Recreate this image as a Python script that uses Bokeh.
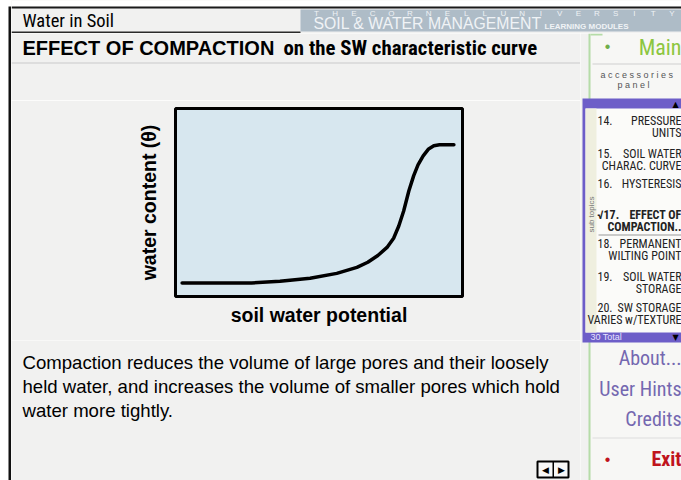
import math
from bokeh.plotting import figure
from bokeh.models import Range1d, FixedTicker
from bokeh.layouts import row, column
from bokeh.core.properties import value
from bokeh.embed import file_html
from bokeh.resources import INLINE

# ---- chart data (arbitrary units) ----
soil_water_potential = [2.3, 26.5, 36.4, 46.9, 56.2, 63.2, 67.0, 70.5, 73.7, 76.0, 77.8,
                        79.5, 81.3, 83.0, 84.5, 86.3, 88.2, 90.0, 92.0, 97.0]
water_content = [7.2, 7.2, 8.1, 9.7, 12.3, 15.5, 18.2, 21.8, 26.1, 31.0, 37.5,
                 45.5, 56.1, 64.3, 70.0, 74.8, 78.5, 80.2, 80.7, 80.7]

x_label = "soil water potential"
y_label = "water content (θ)"
page_title = "Water in Soil"
heading_caps = "EFFECT OF COMPACTION"
heading_rest = "on the SW characteristic curve"
paragraph = ["Compaction reduces the volume of large pores and their loosely",
             "held water, and increases the volume of smaller pores which hold",
             "water more tightly."]
banner_top = "THECORNELLUNIVERSITY"
topic_numbers = ["14.", "15.", "16.", "√17.", "18.", "19.", "20."]
topic_lines = [["PRESSURE", "UNITS"], ["SOIL WATER", "CHARAC. CURVE"], ["HYSTERESIS"],
               ["EFFECT OF", "COMPACTION.."], ["PERMANENT", "WILTING POINT"],
               ["SOIL WATER", "STORAGE"], ["SW STORAGE", "VARIES w/TEXTURE"]]
menu_items = ["About...", "User Hints", "Credits"]

PAGE = "#f1f1f0"
SANS = "Liberation Sans"
NARROW = "Roboto Condensed, DejaVu Sans Condensed, Liberation Sans"


def canvas(x0, y0, x1, y1, bg=PAGE):
    f = figure(width=x1 - x0, height=y1 - y0, x_range=Range1d(x0, x1),
               y_range=Range1d(y1, y0), output_backend="svg", toolbar_location=None,
               x_axis_type=None, y_axis_type=None, min_border=0, frame_align=False)
    f.outline_line_color = None
    f.grid.visible = False
    f.background_fill_color = bg
    f.border_fill_color = bg
    return f


def rect(f, l, t, r, b, fill=None, line=None, lw=1):
    f.quad(left=[l], right=[r], top=[t], bottom=[b],
           fill_color=fill if fill else None, line_color=line if line else None,
           line_width=lw)


def txt(f, x, y, s, size=12, font=SANS, color="black", style="normal",
        align="left", baseline="alphabetic", angle=0.0, alpha=1.0):
    if baseline == "alphabetic":
        y = y - 0.38 * size
    f.text(x=[x], y=[y], text=[s], text_font=value(font), text_font_size=value(f"{size}px"),
           text_color=color, text_font_style=style, text_align=align,
           text_baseline=baseline, angle=angle, text_alpha=alpha)


# ---- left strip (page border) ----
strip = canvas(0, 0, 11, 480, bg="white")
rect(strip, 8, 6, 11, 480, fill="#111111")

# ---- header ----
header = canvas(11, 0, 681, 33)
rect(header, 11, 0, 681, 6, fill="white")
rect(header, 11, 6, 681, 8, fill="#1a1a1a")
rect(header, 11, 31, 300, 33, fill="#2a2a2a")
rect(header, 300, 9, 681, 31, fill="#aebcc7")
txt(header, 22, 28, page_title, size=18.5, font=NARROW)
for i, ch in enumerate(banner_top):
    txt(header, 316 + 18.7 * i, 16.5, ch, size=8, color="#eef2f5", align="center")
txt(header, 313, 29, "SOIL & WATER MANAGEMENT", size=15.8, color="#f0f3f6")
txt(header, 544, 29, "LEARNING MODULES", size=8, color="#f0f3f6", style="bold")

# ---- heading ----
heading = canvas(11, 33, 580, 100)
rect(heading, 11, 62, 580, 63, fill="#c9c9c9")
txt(heading, 22, 55, heading_caps, size=20, style="bold")
txt(heading, 283, 55, heading_rest, size=20.8, font=NARROW, style="bold")

# ---- chart ----
p = figure(width=569, height=240, output_backend="svg", toolbar_location=None,
           x_range=Range1d(0, 100), y_range=Range1d(0, 100),
           min_border_left=164, min_border_right=118,
           min_border_top=8, min_border_bottom=44, frame_align=False)
p.background_fill_color = "#d7e7ef"
p.border_fill_color = PAGE
p.outline_line_color = "black"
p.outline_line_width = 3
p.grid.visible = False
for ax in (p.xaxis, p.yaxis):
    ax.ticker = FixedTicker(ticks=[])
    ax.axis_line_color = None
    ax.major_tick_line_color = None
    ax.minor_tick_line_color = None
    ax.major_label_text_font_size = "0px"
    ax.axis_label_text_font = SANS
    ax.axis_label_text_font_style = "bold"
    ax.axis_label_text_font_size = "19.5px"
    ax.axis_label_text_color = "black"
p.xaxis.axis_label = x_label
p.yaxis.axis_label = y_label
p.xaxis.axis_label_standoff = 7
p.yaxis.axis_label_standoff = 16
p.line(soil_water_potential, water_content, line_color="black", line_width=3.5,
       line_join="round", line_cap="round")

# ---- paragraph ----
para = canvas(11, 340, 580, 480)
for i, line in enumerate(paragraph):
    txt(para, 22, 369 + 24 * i, line, size=18.6)
rect(para, 537, 461, 568, 477, fill="#f7f7f7", line="black", lw=2)
rect(para, 552, 461, 553.5, 477, fill="black")
txt(para, 545, 469, "◀", size=9, font="DejaVu Sans", align="center", baseline="middle")
txt(para, 561, 469, "▶", size=9, font="DejaVu Sans", align="center", baseline="middle")

# ---- sidebar ----
side = canvas(580, 33, 681, 480)
rect(side, 590, 33, 681, 480, fill="#f7f7f5")
rect(side, 588, 33, 590, 480, fill="#b5dca8")
rect(side, 590, 33, 602, 35, fill="#b5dca8")
txt(side, 607, 46, "•", size=16, color="#6fae4a", align="center", baseline="middle")
txt(side, 681, 55, "Main", size=22, font=NARROW, color="#8cc63f", align="right")
rect(side, 592, 63, 681, 64, fill="#d0d0d0")
txt(side, 600, 78, "a c c e s s o r i e s", size=9, color="#555555")
txt(side, 633, 88, "p a n e l", size=9, color="#555555", align="center")

rect(side, 582, 98, 681, 342, fill="#6d5ec8")
rect(side, 585, 108, 681, 332, fill="#fbfbf9")
rect(side, 585, 108, 596, 332, fill="#efefdf")
txt(side, 675, 104, "▲", size=8, font="DejaVu Sans", align="center", baseline="middle")
txt(side, 675, 337, "▼", size=8, font="DejaVu Sans", align="center", baseline="middle")
txt(side, 590, 340, "30 Total", size=9, color="#e6e2ff")
txt(side, 591, 214, "sub topics", size=8, color="#777777", angle=math.pi / 2,
    align="center", baseline="middle")
tops = [125, 158, 188, 219, 248, 281, 312]
for num, lines, t in zip(topic_numbers, topic_lines, tops):
    bold = "bold" if "17" in num else "normal"
    txt(side, 597, t, num, size=12, font=NARROW, color="#222222", style=bold)
    for j, s in enumerate(lines):
        txt(side, 681, t + 12 * j, s, size=12, font=NARROW, color="#222222",
            style=bold, align="right")
rect(side, 598, 234, 681, 235, fill="#9a9a9a")

for s, b in zip(menu_items, [365, 396, 426]):
    txt(side, 681, b, s, size=20, font=NARROW, color="#7468b0", align="right")
rect(side, 592, 437, 681, 438, fill="#dedede")
txt(side, 607, 459, "•", size=16, color="#c0141c", align="center", baseline="middle")
txt(side, 681, 466, "Exit", size=20, font=NARROW, color="#c0141c", style="bold",
    align="right")

layout = row(strip,
             column(header,
                    row(column(heading, p, para, spacing=0), side, spacing=0),
                    spacing=0),
             spacing=0)

open("out.html", "w").write(file_html(layout, INLINE))
